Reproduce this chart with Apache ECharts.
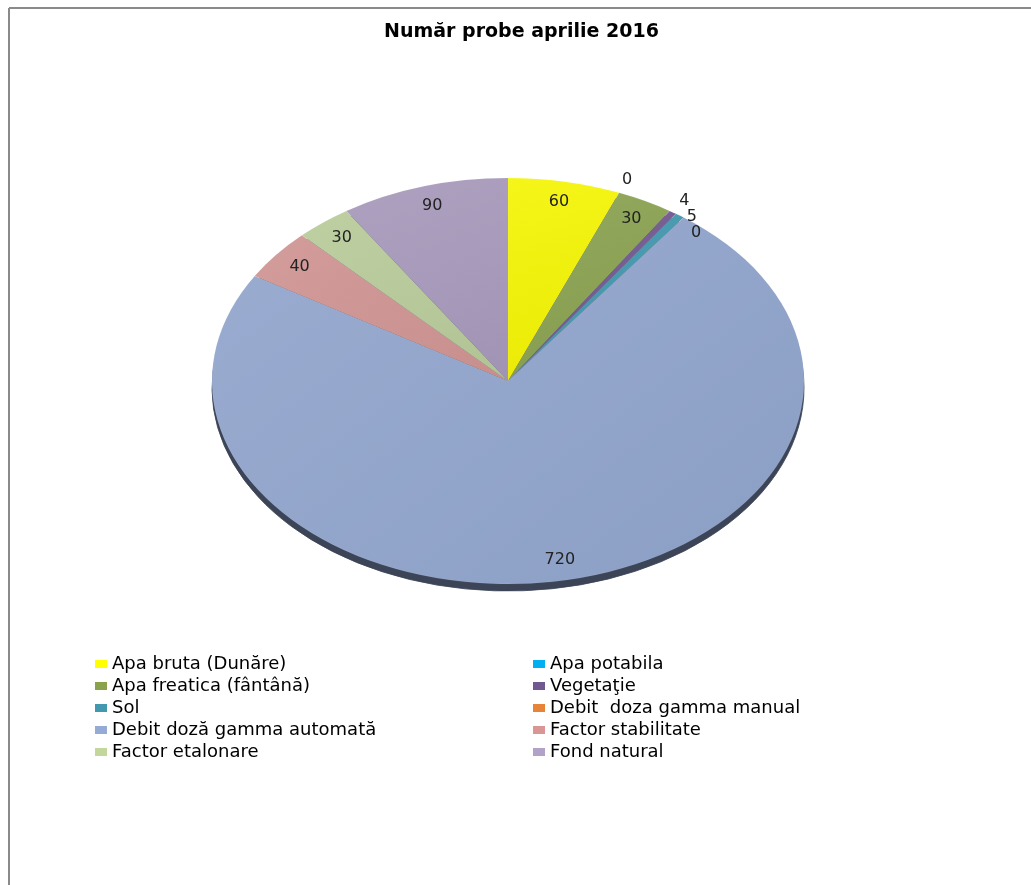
<!DOCTYPE html>
<html>
<head>
<meta charset="utf-8">
<script src="https://cdn.jsdelivr.net/npm/echarts@6/dist/echarts.min.js"></script>
<style>
html,body{margin:0;padding:0;background:#fff;}
#chart{width:1031px;height:885px;}
</style>
</head>
<body>
<div id="chart"></div>
<script>
// ---- data ----
const titleText = 'Număr probe aprilie 2016';
const categories = [
  'Apa bruta (Dunăre)',
  'Apa potabila',
  'Apa freatica (fântână)',
  'Vegetaţie',
  'Sol',
  'Debit  doza gamma manual',
  'Debit doză gamma automată',
  'Factor stabilitate',
  'Factor etalonare',
  'Fond natural'
];
const values = [60, 0, 30, 4, 5, 0, 720, 40, 30, 90];

// ---- styles ----
const sliceColors = ['#f4f404', '#00b0f0', '#8aa150', '#71588f', '#4198af', '#e6853a', '#91a5cc', '#cf9492', '#b8cb9a', '#a799bb'];
const legendColors = ['#ffff00', '#00b0f0', '#8aa24e', '#71588f', '#4198af', '#e6853a', '#95aad4', '#d99694', '#c3d69b', '#b3a2c7'];

// ---- layout ----
const CX = 508, CY = 381, RX = 296, RY = 203, DEPTH = 7;
const K = RY / RX;

const total = values.reduce((a, b) => a + b, 0);
const starts = [];
let acc = 0;
values.forEach(v => { starts.push(acc); acc += v; });

function angleOf(cum) { return -Math.PI / 2 + cum / total * Math.PI * 2; }

function shade(hex, f) {
  const n = parseInt(hex.slice(1), 16);
  let r = (n >> 16) & 255, g = (n >> 8) & 255, b = n & 255;
  const m = c => Math.max(0, Math.min(255, Math.round(f > 0 ? c + (255 - c) * f : c * (1 + f))));
  return 'rgb(' + m(r) + ',' + m(g) + ',' + m(b) + ')';
}

// label placement: inside for wide slices, outside (with simple stacking) for thin ones
const labelPos = [];
(function () {
  let prev = null;
  values.forEach((v, i) => {
    const a0 = angleOf(starts[i]);
    const a1 = angleOf(starts[i] + v);
    const mid = (a0 + a1) / 2;
    const span = (a1 - a0) * 180 / Math.PI;
    if (span > 6) {
      const r = 0.9 * RX;
      labelPos.push({ x: CX + r * Math.cos(mid), y: CY + r * Math.sin(mid) * K });
      prev = null;
    } else {
      const r = 1.07 * RX;
      let p = { x: CX + r * Math.cos(mid), y: CY + r * Math.sin(mid) * K };
      if (prev && Math.abs(p.x - prev.x) < 22 && Math.abs(p.y - prev.y) < 16) {
        p = { x: p.x, y: prev.y + 16 };
      }
      labelPos.push(p);
      prev = p;
    }
  });
})();

const chart = echarts.init(document.getElementById('chart'));

const dataItems = categories.map((c, i) => ({ name: c, value: values[i] }));

function sectorShape(i, dy) {
  const a0 = angleOf(starts[i]);
  const a1 = angleOf(starts[i] + values[i]);
  return { cx: CX, cy: CY + dy, r: RX, r0: 0, startAngle: a0, endAngle: a1, clockwise: true };
}

const legendBase = {
  orient: 'vertical', top: 655, itemWidth: 12, itemHeight: 8, itemGap: 4, padding: 0,
  icon: 'rect',
  textStyle: { fontFamily: 'DejaVu Sans', fontSize: 18, color: '#000', lineHeight: 18 },
  selectedMode: false
};

const option = {
  backgroundColor: '#ffffff',
  animation: false,
  title: {
    text: titleText,
    left: 384,
    top: 21,
    padding: 0,
    textStyle: { fontFamily: 'DejaVu Sans', fontWeight: 'bold', fontSize: 19, color: '#000', lineHeight: 22 }
  },
  legend: [
    Object.assign({}, legendBase, { left: 95, data: categories.filter((c, i) => i % 2 === 0) }),
    Object.assign({}, legendBase, { left: 533, data: categories.filter((c, i) => i % 2 === 1) })
  ],
  graphic: [
    { type: 'line', shape: { x1: 9, y1: 8, x2: 1045, y2: 8 }, style: { stroke: '#8a8a8a', lineWidth: 2 } },
    { type: 'line', shape: { x1: 9, y1: 8, x2: 9, y2: 890 }, style: { stroke: '#8a8a8a', lineWidth: 2 } }
  ],
  series: [
    // legend provider (invisible pie)
    {
      type: 'pie', radius: [0, 0], center: [CX, CY], silent: true,
      label: { show: false }, labelLine: { show: false },
      data: dataItems.map((d, i) => ({ name: d.name, value: d.value, itemStyle: { color: legendColors[i] } }))
    },
    // side (depth)
    {
      type: 'custom', coordinateSystem: 'none', silent: true, z: 1,
      data: dataItems,
      renderItem: function (params, api) {
        const i = params.dataIndex;
        if (!(values[i] > 0)) return null;
        return {
          type: 'sector',
          shape: sectorShape(i, 0),
          originX: CX, originY: CY,
          scaleY: K,
          y: DEPTH,
          style: { fill: '#3c4457', stroke: '#3c4457', lineWidth: 1 }
        };
      }
    },
    // top face + labels
    {
      type: 'custom', coordinateSystem: 'none', silent: true, z: 2,
      data: dataItems,
      renderItem: function (params, api) {
        const i = params.dataIndex;
        const children = [];
        if (values[i] > 0) {
          children.push({
            type: 'sector',
            shape: sectorShape(i, 0),
            originX: CX, originY: CY,
            scaleY: K,
            style: {
              fill: new echarts.graphic.LinearGradient(0, 0, 1, 1, [
                { offset: 0, color: shade(sliceColors[i], 0.08) },
                { offset: 1, color: shade(sliceColors[i], -0.04) }
              ], false),
              stroke: 'rgba(255,255,255,0.15)', lineWidth: 0.5
            }
          });
        }
        children.push({
          type: 'text',
          z2: 10,
          style: {
            text: String(api.value(0)),
            x: labelPos[i].x, y: labelPos[i].y,
            align: 'center', verticalAlign: 'middle',
            fill: '#222', font: '16px "DejaVu Sans"'
          }
        });
        return { type: 'group', children: children };
      },
      dimensions: ['value']
    }
  ]
};

chart.setOption(option);
</script>
</body>
</html>
